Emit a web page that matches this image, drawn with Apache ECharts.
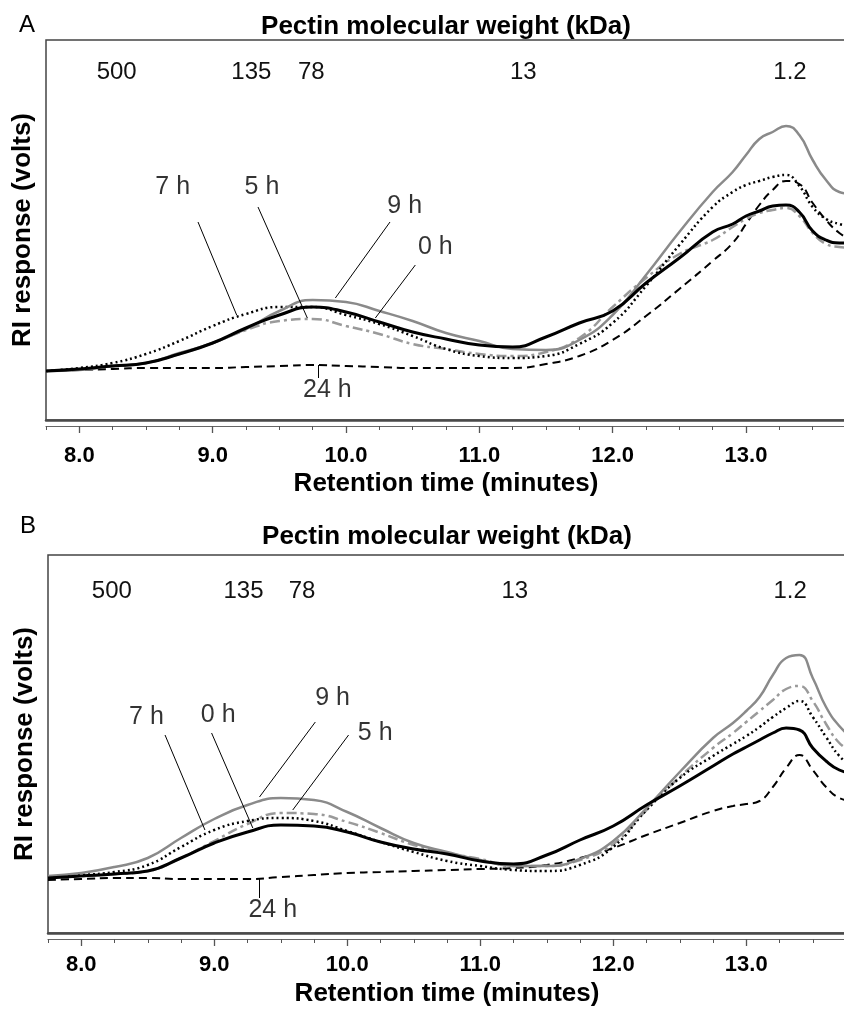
<!DOCTYPE html>
<html>
<head>
<meta charset="utf-8">
<script src="https://cdn.jsdelivr.net/npm/echarts@6.0.0/dist/echarts.min.js"></script>
<style>
  html, body { margin: 0; padding: 0; background: #fff; }
  #chart { width: 844px; height: 1010px; }
</style>
</head>
<body>
<div id="chart"></div>
<script>
// Retention time grid (minutes) shared by all traces
const timeGrid = [7.75, 8.0, 8.25, 8.5, 8.75, 9.0, 9.25, 9.5, 9.75, 10.0, 10.25, 10.5, 10.75, 11.0, 11.25,
                  11.5, 11.75, 12.0, 12.25, 12.5, 12.75, 12.9, 13.0, 13.1, 13.2, 13.3, 13.4, 13.5, 13.6, 13.7, 13.8];

// Panel A – RI response (mV, arbitrary offset)
const aH0  = [49, 51, 54, 57, 66, 77, 92, 105, 113, 108, 98, 88, 81, 75, 73, 83, 97, 109, 137, 162, 188, 196, 204, 209, 214, 215, 208, 189, 180, 177, 177];
const aH5  = [49, 51, 54, 57, 66, 77, 90, 99, 101, 94, 86, 76, 71, 66, 64, 68, 82, 113, 142, 166, 180, 193, 201, 207, 210, 212, 204, 187, 176, 173, 172];
const aH7  = [49, 52, 57, 66, 79, 94, 106, 113, 113, 105, 96, 84, 71, 64, 62, 64, 76, 97, 134, 175, 213, 228, 235, 239, 243, 245, 234, 213, 201, 196, 193];
const aH9  = [49, 50, 54, 57, 67, 77, 91, 109, 120, 118, 109, 99, 87, 79, 71, 70, 80, 105, 145, 188, 228, 248, 265, 281, 288, 294, 285, 260, 240, 228, 226];
const aH24 = [49, 50, 51, 52, 52, 52, 53, 54, 55, 54, 53, 52, 52, 52, 52, 56, 64, 80, 104, 131, 159, 177, 196, 215, 230, 239, 236, 217, 200, 187, 179];

// Panel B
const bH0  = [55, 57, 59, 62, 75, 90, 101, 108, 107, 101, 91, 84, 79, 72, 69, 78, 93, 107, 128, 147, 167, 179, 186, 193, 200, 205, 203, 185, 172, 163, 160];
const bH5  = [56, 57, 59, 62, 75, 92, 109, 120, 119, 111, 100, 88, 80, 74, 67, 67, 73, 89, 123, 156, 185, 200, 211, 222, 233, 244, 247, 232, 209, 190, 181];
const bH7  = [56, 58, 61, 68, 86, 103, 112, 115, 112, 102, 91, 81, 72, 67, 63, 62, 68, 86, 123, 155, 177, 189, 197, 206, 216, 225, 232, 216, 196, 177, 166];
const bH9  = [57, 60, 66, 75, 95, 114, 128, 135, 133, 121, 105, 90, 81, 73, 67, 67, 74, 92, 125, 161, 195, 210, 222, 236, 258, 275, 278, 255, 226, 207, 195];
const bH24 = [53, 54, 55, 55, 54, 54, 54, 56, 58, 60, 61, 62, 63, 64, 65, 68, 75, 85, 98, 110, 122, 127, 129, 132, 146, 165, 178, 163, 146, 135, 132];

// Axis ticks
const majorTicks = [8, 9, 10, 11, 12, 13];
const minorTicks = [7.75, 8.0, 8.25, 8.5, 8.75, 9.0, 9.25, 9.5, 9.75, 10.0, 10.25, 10.5, 10.75, 11.0, 11.25,
                    11.5, 11.75, 12.0, 12.25, 12.5, 12.75, 13.0, 13.25, 13.5, 13.75];

// Molecular weight markers (kDa) and their retention times
const mwLabels = ['500', '135', '78', '13', '1.2'];
const mwTimesA = [8.28, 9.29, 9.74, 11.33, 13.33];
const mwTimesB = [8.23, 9.22, 9.66, 11.26, 13.33];

// Curve annotations: label text, label position, leader line ends
const noteTextA = ['7 h', '5 h', '9 h', '0 h', '24 h'];
const notePosA  = [[8.70, 233], [9.37, 233], [10.44, 214], [10.67, 173], [9.86, 30]];
const noteFromA = [[8.89, 198], [9.34, 213], [10.33, 198], [10.52, 155], [9.79, 42]];
const noteToA   = [[9.18, 105], [9.71, 102], [9.92, 122], [10.22, 102], [9.79, 55]];

const noteTextB = ['7 h', '0 h', '9 h', '5 h', '24 h'];
const notePosB  = [[8.49, 216], [9.03, 218], [9.89, 235], [10.21, 200], [9.44, 23]];
const noteFromB = [[8.63, 198], [8.98, 200], [9.76, 211], [10.01, 198], [9.34, 35]];
const noteToB   = [[8.93, 103], [9.29, 105], [9.34, 136], [9.59, 123], [9.34, 54]];

const FONT = 'Liberation Sans, Arial, sans-serif';
const X_MIN = 7.75, X_MAX = 13.75;

const traceStyles = {
    '24 h': { color: '#000', width: 2, type: [8, 5] },
    '5 h':  { color: '#9a9a9a', width: 2.5, type: [10, 4, 3, 4] },
    '7 h':  { color: '#000', width: 2.5, type: [2, 3] },
    '9 h':  { color: '#8a8a8a', width: 2.5, type: 'solid' },
    '0 h':  { color: '#000', width: 3, type: 'solid' },
};

const grids = [], xAxes = [], yAxes = [], series = [];

function addPanel(i, layout, traces, mwTimes, notes) {
    const base = xAxes.length;
    grids.push({
        left: layout.left, top: layout.top, right: -2, height: layout.height,
        show: true, borderColor: '#444', borderWidth: 1.5,
        containLabel: false, outerBoundsMode: 'none',
    });

    const common = { gridIndex: i, type: 'value', min: X_MIN, max: X_MAX, splitLine: { show: false } };

    // top axis: molecular weight markers
    xAxes.push(Object.assign({}, common, {
        position: 'top',
        axisLine: { show: false }, axisTick: { show: false },
        axisLabel: {
            inside: true, margin: layout.mwMargin, customValues: mwTimes,
            formatter: v => {
                let k = 0;
                mwTimes.forEach((t, j) => { if (Math.abs(t - v) < Math.abs(mwTimes[k] - v)) k = j; });
                return mwLabels[k];
            },
            fontSize: 24, color: '#111', fontFamily: FONT,
        },
        name: 'Pectin molecular weight (kDa)', nameLocation: 'middle', nameGap: layout.titleGap,
        nameTextStyle: { fontSize: 26, fontWeight: 'bold', color: '#000', fontFamily: FONT },
    }));
    // heavy bottom frame line
    xAxes.push(Object.assign({}, common, {
        position: 'bottom',
        axisLine: { show: true, lineStyle: { color: '#4a4a4a', width: 2.5 } },
        axisTick: { show: false }, axisLabel: { show: false },
    }));
    // separate time axis with minor ticks
    xAxes.push(Object.assign({}, common, {
        position: 'bottom', offset: 6,
        axisLine: { show: true, lineStyle: { color: '#666', width: 1.2 } },
        axisTick: { show: true, customValues: minorTicks, length: 4, lineStyle: { color: '#555', width: 1 } },
        axisLabel: { show: false },
    }));
    // major ticks + labels
    xAxes.push(Object.assign({}, common, {
        position: 'bottom', offset: 6,
        axisLine: { show: false },
        axisTick: { show: true, customValues: majorTicks, length: 7, lineStyle: { color: '#555', width: 1.3 } },
        axisLabel: {
            customValues: majorTicks, formatter: v => v.toFixed(1), margin: layout.tickMargin,
            fontSize: 22, fontWeight: 'bold', color: '#000', fontFamily: FONT,
        },
        name: 'Retention time (minutes)', nameLocation: 'middle', nameGap: layout.nameGap,
        nameTextStyle: { fontSize: 26, fontWeight: 'bold', color: '#000', fontFamily: FONT },
    }));

    yAxes.push({
        gridIndex: i, type: 'value', min: 0, max: layout.yMax,
        axisLine: { show: false }, axisTick: { show: false }, axisLabel: { show: false }, splitLine: { show: false },
        name: 'RI response (volts)', nameLocation: 'middle', nameGap: 10, nameRotate: 90,
        nameTextStyle: { fontSize: 26, fontWeight: 'bold', color: '#000', fontFamily: FONT },
    });

    const xi = base + 2;
    Object.keys(traces).forEach(name => {
        const s = traceStyles[name];
        series.push({
            name, type: 'line', xAxisIndex: xi, yAxisIndex: i,
            data: timeGrid.map((t, k) => [t, traces[name][k]]),
            symbol: 'none', smooth: 0.5, clip: true, silent: true,
            lineStyle: { color: s.color, width: s.width, type: s.type },
        });
    });

    series.push({
        type: 'lines', coordinateSystem: 'cartesian2d', xAxisIndex: xi, yAxisIndex: i,
        data: notes.from.map((p, k) => ({ coords: [p, notes.to[k]] })),
        lineStyle: { color: '#000', width: 1, opacity: 1, curveness: 0 },
        symbol: 'none', silent: true, z: 5,
    });
    series.push({
        type: 'scatter', xAxisIndex: xi, yAxisIndex: i,
        data: notes.pos.map((p, k) => ({ value: p, label: { formatter: notes.text[k], color: '#000' } })),
        symbolSize: 1, itemStyle: { color: 'rgba(0,0,0,0)' }, silent: true,
        label: { show: true, position: 'inside', fontSize: 25, color: '#000', fontFamily: FONT },
        z: 6,
    });
}

addPanel(0, { left: 46, top: 40, height: 380, yMax: 380, mwMargin: 20, titleGap: 0, tickMargin: 19, nameGap: 45 },
    { '24 h': aH24, '5 h': aH5, '7 h': aH7, '9 h': aH9, '0 h': aH0 }, mwTimesA,
    { text: noteTextA, pos: notePosA, from: noteFromA, to: noteToA });
addPanel(1, { left: 48, top: 555, height: 378, yMax: 378, mwMargin: 24, titleGap: 5, tickMargin: 15, nameGap: 42 },
    { '24 h': bH24, '5 h': bH5, '7 h': bH7, '9 h': bH9, '0 h': bH0 }, mwTimesB,
    { text: noteTextB, pos: notePosB, from: noteFromB, to: noteToB });

const chart = echarts.init(document.getElementById('chart'), null, { renderer: 'canvas' });
chart.setOption({
    animation: false,
    backgroundColor: '#fff',
    title: [
        { text: 'A', left: 14, top: 8, textStyle: { fontSize: 24, fontWeight: 'normal', color: '#000', fontFamily: FONT } },
        { text: 'B', left: 15, top: 509, textStyle: { fontSize: 24, fontWeight: 'normal', color: '#000', fontFamily: FONT } },
    ],
    grid: grids,
    xAxis: xAxes,
    yAxis: yAxes,
    series,
});
</script>
</body>
</html>
